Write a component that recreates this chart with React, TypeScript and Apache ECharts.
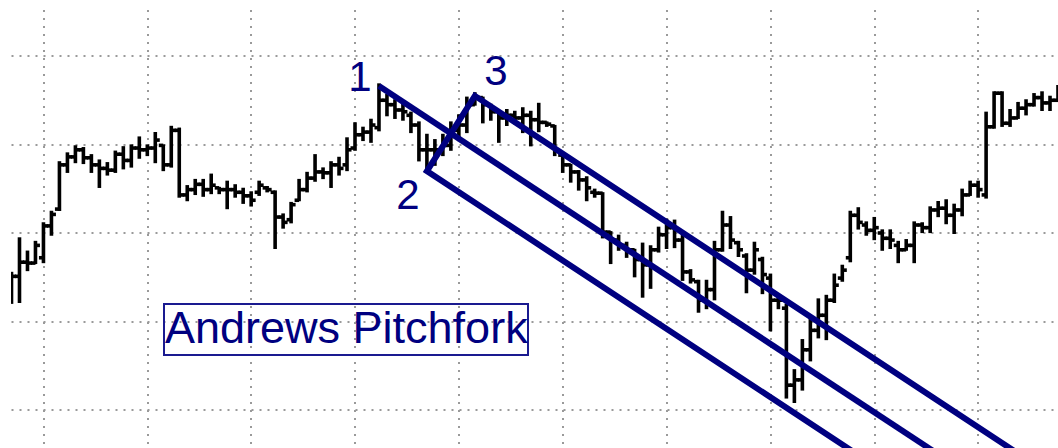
import { useEffect, useRef } from 'react';
import * as echarts from 'echarts';

// bar labels (one per trading bar)
const categories: string[] = Array.from({ length: 132 }, (_, i) => String(i + 1));

const opens = [
  52.7, 55.1, 56.7, 56.6, 57.2, 60.8, 62.7, 67.7, 68.6, 69.4,
  68.5, 67.7, 67.3, 67.1, 68.9, 68.2, 69.6, 69.4, 69.6, 69.9,
  67.7, 71.6, 64.3, 64.9, 65.5, 64.9, 65.1, 64.9, 64.9, 64.6,
  64.2, 64.6, 65.1, 64.6, 61.8, 61.5, 63.7, 64.9, 66.2, 66.9,
  66.8, 67.7, 67.7, 69.6, 71.1, 71.4, 71.9, 75.0, 74.5, 73.9,
  73.3, 72.2, 69.4, 69.4, 69.4, 69.9, 71.6, 72.2, 74.5, 75.3,
  74.5, 73.7, 73.0, 73.3, 73.0, 73.3, 72.8, 72.5, 72.1, 68.8,
  67.7, 66.9, 66.0, 64.6, 64.5, 60.1, 59.2, 58.6, 58.1, 57.0,
  56.4, 58.1, 59.8, 60.6, 59.2, 55.6, 54.5, 52.4, 53.6, 58.1,
  60.9, 58.9, 57.4, 55.8, 57.0, 54.9, 52.4, 51.5, 42.8, 43.4,
  46.8, 49.0, 50.7, 52.4, 54.9, 57.2, 62.0, 60.9, 60.3, 60.0,
  59.4, 58.6, 58.1, 58.6, 60.9, 60.6, 62.6, 62.8, 62.0, 62.6,
  64.3, 65.4, 64.3, 72.0, 75.8, 72.4, 73.0, 74.1, 74.5, 75.3,
  74.7, 75.0,
];

const highs = [
  55.5, 59.4, 57.9, 59.0, 61.1, 62.4, 68.0, 69.0, 69.8, 69.6,
  68.8, 68.2, 67.9, 69.2, 69.7, 69.9, 70.8, 69.9, 71.3, 69.9,
  72.0, 71.8, 65.3, 66.0, 66.0, 66.6, 65.1, 65.8, 65.4, 65.0,
  64.6, 65.8, 65.2, 64.7, 62.1, 63.4, 66.0, 66.8, 68.8, 67.3,
  68.0, 68.5, 70.7, 72.4, 71.9, 72.8, 76.8, 75.6, 75.0, 74.6,
  73.6, 72.5, 71.1, 70.5, 71.1, 72.5, 73.3, 75.3, 75.8, 75.3,
  74.5, 73.7, 73.9, 73.7, 74.1, 73.7, 74.6, 72.5, 72.1, 68.8,
  67.7, 67.0, 66.3, 64.9, 64.5, 60.1, 59.7, 58.9, 58.1, 58.8,
  58.5, 60.6, 61.5, 61.4, 60.1, 55.8, 54.6, 54.6, 59.0, 62.4,
  61.8, 59.0, 57.6, 58.9, 57.2, 55.3, 52.9, 51.9, 44.5, 47.9,
  50.4, 52.5, 52.9, 55.3, 56.3, 62.4, 62.8, 61.2, 61.7, 60.3,
  60.3, 59.0, 59.2, 61.2, 61.1, 62.9, 63.5, 63.7, 63.2, 64.9,
  65.8, 65.8, 73.6, 75.9, 75.9, 73.9, 74.7, 75.0, 75.7, 75.9,
  75.4, 76.6,
];

const lows = [
  52.1, 52.2, 55.8, 56.6, 56.7, 59.8, 62.6, 66.9, 68.0, 67.9,
  66.9, 65.2, 66.6, 66.9, 67.3, 67.5, 68.5, 68.8, 68.0, 67.1,
  67.5, 64.1, 63.7, 64.4, 64.2, 64.5, 64.5, 62.8, 64.1, 63.4,
  63.1, 64.3, 64.7, 58.3, 60.6, 61.2, 63.7, 64.7, 65.9, 66.2,
  65.2, 66.6, 67.1, 69.4, 70.5, 70.3, 71.6, 73.3, 73.0, 72.8,
  71.4, 68.2, 67.0, 67.7, 68.8, 69.4, 70.5, 71.4, 74.5, 72.5,
  72.8, 70.3, 72.2, 72.4, 71.4, 69.9, 71.5, 72.1, 68.8, 66.9,
  65.8, 64.9, 63.7, 64.1, 59.5, 56.6, 58.1, 57.3, 55.1, 52.8,
  53.8, 57.9, 58.3, 58.4, 54.7, 54.4, 51.1, 51.5, 52.5, 58.0,
  58.3, 57.4, 53.3, 55.4, 53.2, 49.0, 51.5, 41.4, 40.9, 42.3,
  45.6, 48.2, 48.0, 52.2, 54.6, 56.8, 60.5, 59.8, 59.3, 58.1,
  58.3, 56.7, 58.1, 56.7, 60.1, 60.1, 61.9, 61.1, 60.0, 62.0,
  64.3, 64.1, 64.0, 71.9, 72.1, 72.1, 73.0, 73.4, 74.4, 73.9,
  73.9, 75.0,
];

const closes = [
  55.1, 56.7, 56.6, 58.6, 60.8, 62.1, 67.7, 68.6, 69.4, 68.5,
  67.7, 67.3, 67.1, 68.9, 68.2, 69.6, 69.4, 69.6, 70.5, 67.7,
  71.6, 64.3, 64.9, 65.5, 64.9, 65.4, 64.9, 64.9, 64.6, 64.2,
  63.7, 65.4, 64.9, 61.8, 61.2, 63.2, 64.9, 66.2, 66.9, 66.8,
  67.7, 67.3, 69.4, 71.1, 71.4, 72.2, 75.0, 74.5, 73.9, 73.7,
  72.2, 69.4, 69.4, 69.4, 69.9, 71.6, 72.2, 74.5, 75.3, 74.5,
  73.7, 73.0, 73.3, 73.0, 73.3, 72.8, 72.5, 72.3, 69.4, 67.7,
  66.9, 66.0, 65.1, 64.5, 60.1, 59.2, 58.6, 58.1, 57.0, 56.4,
  58.1, 59.8, 60.6, 59.2, 55.6, 54.7, 52.4, 53.6, 58.1, 60.9,
  59.2, 58.1, 55.8, 58.1, 55.3, 52.4, 52.4, 42.8, 43.4, 46.8,
  49.0, 50.7, 52.4, 54.1, 55.8, 62.0, 61.2, 60.3, 60.6, 59.4,
  59.2, 58.1, 58.6, 60.9, 60.6, 62.6, 62.8, 62.0, 62.6, 64.3,
  65.4, 64.9, 72.0, 75.8, 72.4, 73.0, 74.1, 74.5, 75.3, 74.7,
  75.0, 76.2,
];

// Andrews pitchfork pivots (bar index, price)
const pivotBars = [46, 52, 58];
const pivotPrices = [76.6, 67.0, 75.5];
const pivotLabels = ['1', '2', '3'];

const titleText = 'Andrews Pitchfork';

const NAVY = '#000080';
const FONT = '"Liberation Sans", Arial, Helvetica, sans-serif';

export default function App() {
  const ref = useRef<HTMLDivElement>(null);

  useEffect(() => {
    const chart = echarts.init(ref.current!, null, { renderer: 'svg' });

    const ohlc = opens.map((o, i) => [i, o, highs[i], lows[i], closes[i]]);

    const [b1, b2, b3] = pivotBars;
    const [p1, p2, p3] = pivotPrices;
    const midB = (b2 + b3) / 2;
    const midP = (p2 + p3) / 2;
    const slope = (midP - p1) / (midB - b1);
    const endB = categories.length - 1;
    const median = [
      [b1, p1],
      [endB, p1 + slope * (endB - b1)],
    ];
    const frame = [
      [endB, p2 + slope * (endB - b2)],
      [b2, p2],
      [b3, p3],
      [endB, p3 + slope * (endB - b3)],
    ];

    const labelOffsets = [
      [-19, -10],
      [-19, 23],
      [21, -25],
    ];

    const gridLine = { color: '#9a9a9a', width: 2, type: [2, 6] as number[] };

    const option: any = {
      animation: false,
      backgroundColor: '#ffffff',
      grid: { left: 11.5, right: -1.5, top: 10, bottom: 0, containLabel: false },
      xAxis: {
        type: 'category',
        data: categories,
        boundaryGap: false,
        axisLine: { show: false },
        axisTick: { show: false },
        axisLabel: { show: false },
        splitLine: {
          show: true,
          interval: (idx: number) => (idx - 4) % 13 === 0,
          lineStyle: gridLine,
        },
      },
      yAxis: {
        type: 'value',
        min: 35.7,
        max: 85.2,
        minInterval: 10,
        maxInterval: 10,
        axisLine: { show: false },
        axisTick: { show: false },
        axisLabel: { show: false },
        splitLine: {
          show: true,
          showMinLine: false,
          showMaxLine: false,
          lineStyle: gridLine,
        },
      },
      series: [
        {
          type: 'custom',
          name: 'OHLC',
          clip: true,
          encode: { x: 0, y: [1, 2, 3, 4] },
          data: ohlc,
          renderItem: (_params: any, api: any) => {
            const i = api.value(0);
            const o = api.coord([i, api.value(1)]);
            const h = api.coord([i, api.value(2)]);
            const l = api.coord([i, api.value(3)]);
            const c = api.coord([i, api.value(4)]);
            const style = { stroke: '#000000', lineWidth: 3.6, fill: null };
            return {
              type: 'group',
              children: [
                { type: 'line', shape: { x1: h[0], y1: h[1] - 1, x2: l[0], y2: l[1] + 1 }, style },
                { type: 'line', shape: { x1: o[0] - 4.5, y1: o[1], x2: o[0], y2: o[1] }, style },
                { type: 'line', shape: { x1: c[0], y1: c[1], x2: c[0] + 4.5, y2: c[1] }, style },
              ],
            };
          },
          z: 2,
        },
        {
          type: 'line',
          name: 'Median',
          data: median,
          symbol: 'none',
          clip: true,
          lineStyle: { color: NAVY, width: 6, cap: 'butt', opacity: 1 },
          z: 3,
        },
        {
          type: 'line',
          name: 'Tines',
          data: frame,
          symbol: 'none',
          clip: true,
          lineStyle: { color: NAVY, width: 6, join: 'miter', cap: 'butt', opacity: 1 },
          z: 3,
        },
        {
          type: 'scatter',
          name: 'Pivots',
          symbolSize: 1,
          itemStyle: { color: 'rgba(0,0,0,0)', opacity: 1 },
          data: pivotBars.map((b, i) => ({
            value: [b, pivotPrices[i]],
            label: { offset: labelOffsets[i] },
          })),
          label: {
            show: true,
            position: 'inside',
            formatter: (p: any) => pivotLabels[p.dataIndex],
            color: NAVY,
            opacity: 1,
            fontSize: 42,
            fontFamily: FONT,
          },
          z: 4,
        },
      ],
      graphic: [
        {
          type: 'rect',
          shape: { x: 164, y: 304, width: 364, height: 51 },
          style: { fill: 'rgba(0,0,0,0)', stroke: '#1a1a90', lineWidth: 2 },
          z: 10,
        },
        {
          type: 'text',
          x: 165,
          y: 327.5,
          style: {
            text: titleText,
            fill: NAVY,
            fontSize: 45,
            fontFamily: FONT,
            verticalAlign: 'middle',
            align: 'left',
          },
          z: 11,
        },
      ],
    };

    chart.setOption(option);
    return () => chart.dispose();
  }, []);

  return (
    <div
      ref={ref}
      style={{ position: 'fixed', left: 0, top: 0, width: 1058, height: 448, background: '#fff' }}
    />
  );
}
